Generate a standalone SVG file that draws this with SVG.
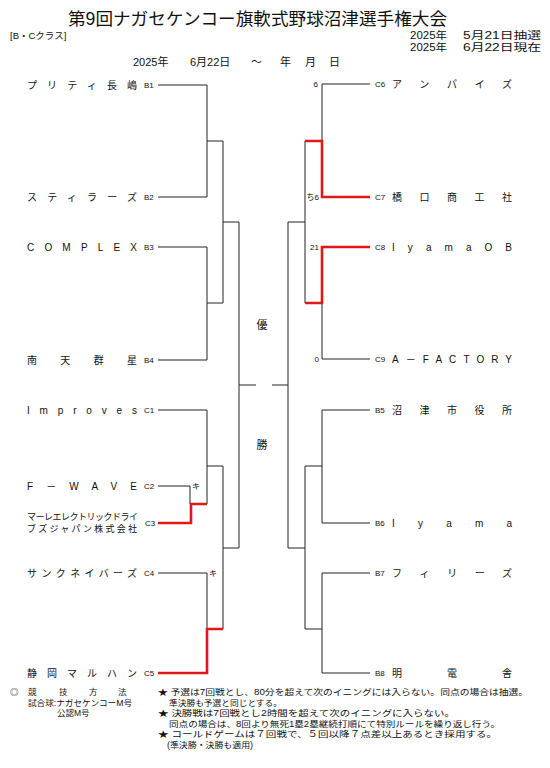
<svg xmlns="http://www.w3.org/2000/svg" width="550" height="768" viewBox="0 0 550 768">
<style>
text{font-family:"Liberation Sans","Noto Sans CJK JP",sans-serif;fill:#111}
.nm{font-size:10px}
.lb{font-size:8px}
.sc{font-size:8px}
.nt{font-size:9px}
.ft{font-size:8.5px}
.hd{font-size:10px}
.k{fill:none;stroke:#222;stroke-width:1}
.r{fill:none;stroke:#e01818;stroke-width:2.6}
</style>
<rect width="550" height="768" fill="#fff"/>
<g id="header">
<text x="68" y="25" font-size="17.5" textLength="379" lengthAdjust="spacingAndGlyphs">第9回ナガセケンコー旗軟式野球沼津選手権大会</text>
<text x="10" y="39" font-size="9.5">[B・Cクラス]</text>
<text class="hd" x="410" y="39" textLength="37" lengthAdjust="spacingAndGlyphs">2025年</text>
<text class="hd" x="463" y="39" textLength="78" lengthAdjust="spacingAndGlyphs">5月21日抽選</text>
<text class="hd" x="410" y="51" textLength="37" lengthAdjust="spacingAndGlyphs">2025年</text>
<text class="hd" x="463" y="51" textLength="78" lengthAdjust="spacingAndGlyphs">6月22日現在</text>
<text y="66" font-size="11"><tspan x="133">2025年</tspan><tspan x="190">6月22日</tspan><tspan x="251">～</tspan><tspan x="280">年</tspan><tspan x="305">月</tspan><tspan x="329">日</tspan></text>
</g>
<g id="connectors">
<path class="k" d="M158,85H207V197M158,197H207M207,141H223M158,247H207V360M158,360H207M207,303H223M223,141V303M223,222H239M158,410H207V504M158,486H190V504M207,466H223M158,573H207V629M223,466V629M223,548H239M239,222V548M239,385H256"/>
<path class="r" d="M158,523H191V504H207"/>
<path class="r" d="M158,673H207V629H223"/>
<path class="k" d="M370,84H322V141M370,359H322V303M305,141V303M305,222H288M370,410H322V523M370,523H322M322,466H305M370,573H322V673M370,673H322M322,629H305M305,466V629M305,548H288M288,222V548M288,385H272"/>
<path class="r" d="M370,197H322V141H305"/>
<path class="r" d="M370,247H322V303H305"/>
</g>
<g id="final">
<text x="262" y="329" font-size="11" text-anchor="middle">優</text>
<text x="262" y="449" font-size="11" text-anchor="middle">勝</text>
</g>
<g id="B1"><text class="nm" x="27" y="89" textLength="110" lengthAdjust="spacing">プリティ長嶋</text><text class="lb" x="144" y="88">B1</text></g>
<g id="B2"><text class="nm" x="27" y="201" textLength="110" lengthAdjust="spacing">スティラーズ</text><text class="lb" x="144" y="200">B2</text></g>
<g id="B3"><text class="nm" x="27" y="251" textLength="110" lengthAdjust="spacing">COMPLEX</text><text class="lb" x="144" y="250">B3</text></g>
<g id="B4"><text class="nm" x="27" y="364" textLength="110" lengthAdjust="spacing">南天群星</text><text class="lb" x="144" y="363">B4</text></g>
<g id="C1"><text class="nm" x="27" y="414" textLength="110" lengthAdjust="spacing">Improves</text><text class="lb" x="144" y="413">C1</text></g>
<g id="C2"><text class="nm" x="27" y="490" textLength="110" lengthAdjust="spacing">F－WAVE</text><text class="lb" x="144" y="489">C2</text><text class="sc" x="192" y="489">キ</text></g>
<g id="C3"><text class="nt" x="27" y="520" textLength="111" lengthAdjust="spacing">マーレエレクトリックドライ</text><text class="nt" x="27" y="532" textLength="110" lengthAdjust="spacing">ブズジャパン株式会社</text><text class="lb" x="145" y="526">C3</text></g>
<g id="C4"><text class="nm" x="27" y="577" textLength="110" lengthAdjust="spacing">サンクネイバーズ</text><text class="lb" x="144" y="576">C4</text><text class="sc" x="209" y="576">キ</text></g>
<g id="C5"><text class="nm" x="27" y="677" textLength="110" lengthAdjust="spacing">静岡マルハン</text><text class="lb" x="144" y="676">C5</text></g>
<g id="C6"><text class="lb" x="375" y="87">C6</text><text class="nm" x="392" y="88" textLength="120" lengthAdjust="spacing">アンパイズ</text><text class="sc" x="318" y="87" text-anchor="end">6</text></g>
<g id="C7"><text class="lb" x="375" y="200">C7</text><text class="nm" x="392" y="201" textLength="120" lengthAdjust="spacing">橋口商工社</text><text class="sc" x="319" y="200" text-anchor="end">ち6</text></g>
<g id="C8"><text class="lb" x="375" y="250">C8</text><text class="nm" x="392" y="251" textLength="120" lengthAdjust="spacing">IyamaOB</text><text class="sc" x="319" y="250" text-anchor="end">21</text></g>
<g id="C9"><text class="lb" x="375" y="362">C9</text><text class="nm" x="392" y="363" textLength="120" lengthAdjust="spacing">A－FACTORY</text><text class="sc" x="319" y="362" text-anchor="end">0</text></g>
<g id="B5"><text class="lb" x="375" y="413">B5</text><text class="nm" x="392" y="414" textLength="120" lengthAdjust="spacing">沼津市役所</text></g>
<g id="B6"><text class="lb" x="375" y="526">B6</text><text class="nm" x="392" y="527" textLength="120" lengthAdjust="spacing">Iyama</text></g>
<g id="B7"><text class="lb" x="375" y="576">B7</text><text class="nm" x="392" y="577" textLength="120" lengthAdjust="spacing">フィリーズ</text></g>
<g id="B8"><text class="lb" x="375" y="676">B8</text><text class="nm" x="392" y="677" textLength="120" lengthAdjust="spacing">明電舎</text></g>
<g id="notes">
<text class="ft" y="695"><tspan x="10">◎</tspan><tspan x="28">競</tspan><tspan x="59">技</tspan><tspan x="89">方</tspan><tspan x="118">法</tspan></text>
<text class="ft" x="28" y="705.5" textLength="104" lengthAdjust="spacingAndGlyphs">試合球:ナガセケンコーM号</text>
<text class="ft" x="57" y="716">公認M号</text>
<text class="ft" x="158" y="695" textLength="370" lengthAdjust="spacingAndGlyphs">★ 予選は7回戦とし、80分を超えて次のイニングには入らない。同点の場合は抽選。</text>
<text class="ft" x="169" y="705.5" textLength="113" lengthAdjust="spacingAndGlyphs">準決勝も予選と同じとする。</text>
<text class="ft" x="158" y="716" textLength="297" lengthAdjust="spacingAndGlyphs">★ 決勝戦は7回戦とし2時間を超えて次のイニングに入らない。</text>
<text class="ft" x="169" y="726.5" textLength="331" lengthAdjust="spacingAndGlyphs">同点の場合は、8回より無死1塁2塁継続打順にて特別ルールを繰り返し行う。</text>
<text class="ft" x="158" y="737" textLength="339" lengthAdjust="spacingAndGlyphs">★ コールドゲームは７回戦で、５回以降７点差以上あるとき採用する。</text>
<text class="ft" x="167" y="747.5" textLength="86" lengthAdjust="spacingAndGlyphs">(準決勝・決勝も適用)</text>
</g>
</svg>
